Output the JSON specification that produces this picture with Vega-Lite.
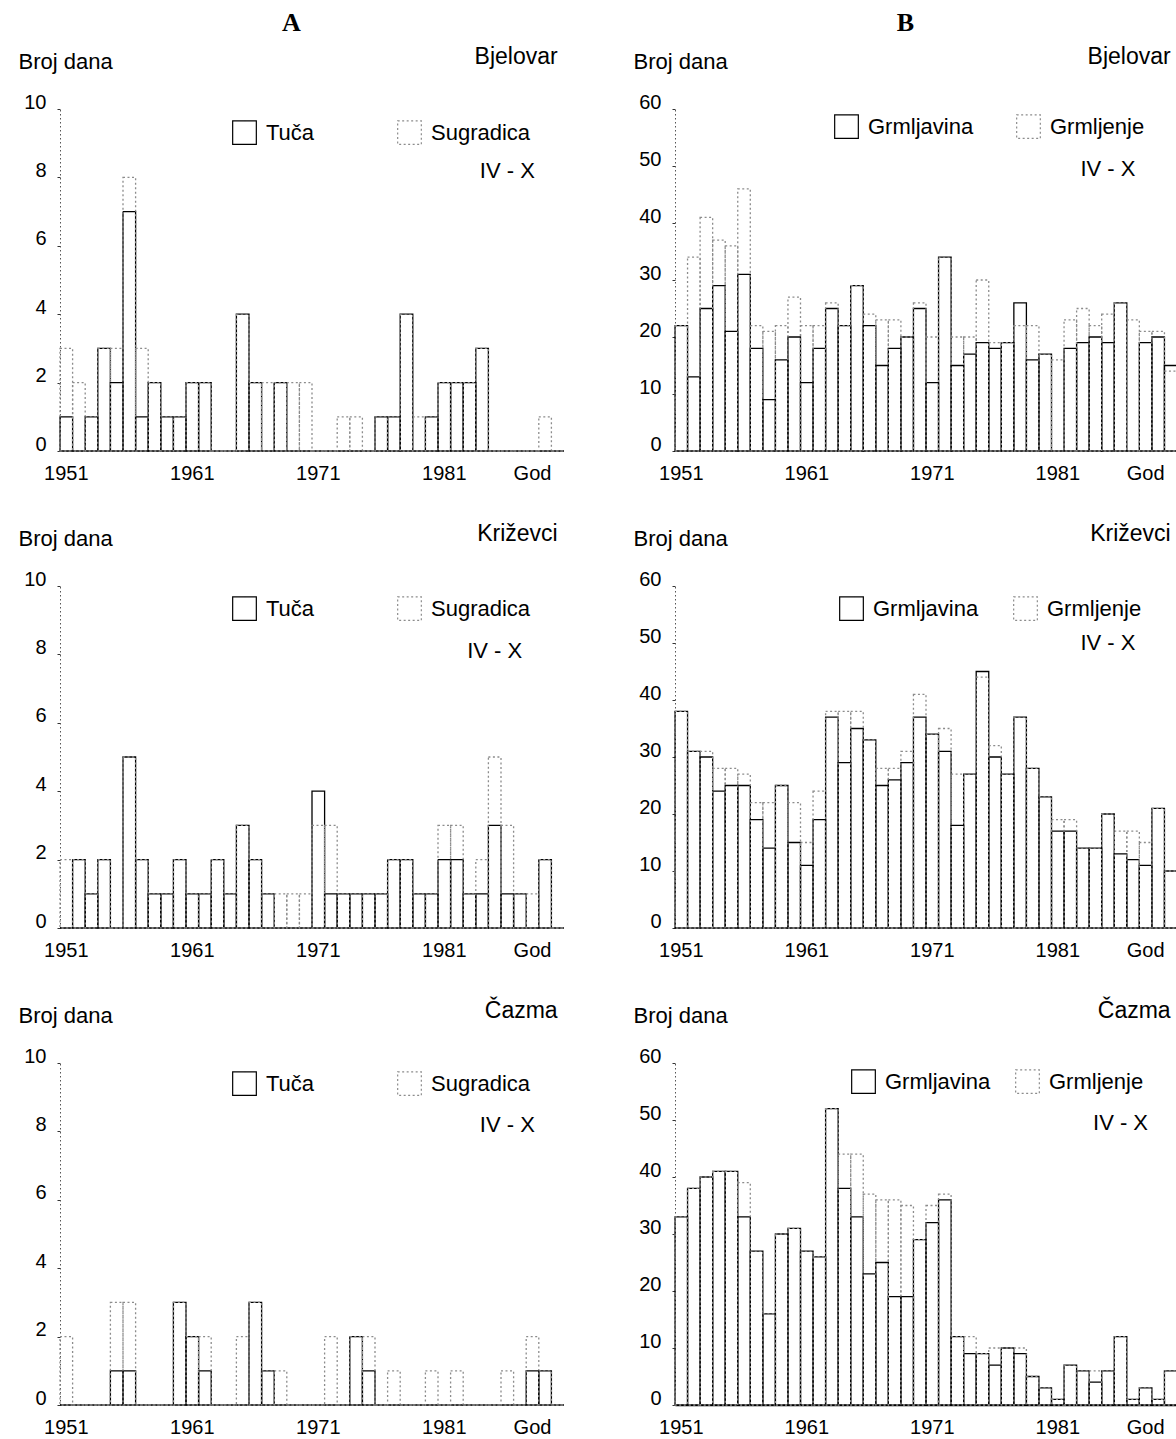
{
  "$schema": "https://vega.github.io/schema/vega-lite/v6.json",
  "autosize": {"type": "pad"},
  "padding": {"left": 18, "top": 10, "right": 0, "bottom": 0},
  "background": "white",
  "datasets": {
    "bjelovarA": [
      {"god":1951,"Tuča":1,"Sugradica":3},{"god":1952,"Tuča":0,"Sugradica":2},{"god":1953,"Tuča":1,"Sugradica":1},{"god":1954,"Tuča":3,"Sugradica":3},{"god":1955,"Tuča":2,"Sugradica":3},
      {"god":1956,"Tuča":7,"Sugradica":8},{"god":1957,"Tuča":1,"Sugradica":3},{"god":1958,"Tuča":2,"Sugradica":2},{"god":1959,"Tuča":1,"Sugradica":1},{"god":1960,"Tuča":1,"Sugradica":1},
      {"god":1961,"Tuča":2,"Sugradica":2},{"god":1962,"Tuča":2,"Sugradica":2},{"god":1963,"Tuča":0,"Sugradica":0},{"god":1964,"Tuča":0,"Sugradica":0},{"god":1965,"Tuča":4,"Sugradica":4},
      {"god":1966,"Tuča":2,"Sugradica":2},{"god":1967,"Tuča":0,"Sugradica":2},{"god":1968,"Tuča":2,"Sugradica":2},{"god":1969,"Tuča":0,"Sugradica":2},{"god":1970,"Tuča":0,"Sugradica":2},
      {"god":1971,"Tuča":0,"Sugradica":0},{"god":1972,"Tuča":0,"Sugradica":0},{"god":1973,"Tuča":0,"Sugradica":1},{"god":1974,"Tuča":0,"Sugradica":1},{"god":1975,"Tuča":0,"Sugradica":0},
      {"god":1976,"Tuča":1,"Sugradica":1},{"god":1977,"Tuča":1,"Sugradica":1},{"god":1978,"Tuča":4,"Sugradica":4},{"god":1979,"Tuča":0,"Sugradica":1},{"god":1980,"Tuča":1,"Sugradica":1},
      {"god":1981,"Tuča":2,"Sugradica":2},{"god":1982,"Tuča":2,"Sugradica":2},{"god":1983,"Tuča":2,"Sugradica":2},{"god":1984,"Tuča":3,"Sugradica":3},{"god":1985,"Tuča":0,"Sugradica":0},
      {"god":1986,"Tuča":0,"Sugradica":0},{"god":1987,"Tuča":0,"Sugradica":0},{"god":1988,"Tuča":0,"Sugradica":0},{"god":1989,"Tuča":0,"Sugradica":1},{"god":1990,"Tuča":0,"Sugradica":0}
    ],
    "krizevciA": [
      {"god":1951,"Tuča":0,"Sugradica":2},{"god":1952,"Tuča":2,"Sugradica":2},{"god":1953,"Tuča":1,"Sugradica":1},{"god":1954,"Tuča":2,"Sugradica":2},{"god":1955,"Tuča":0,"Sugradica":0},
      {"god":1956,"Tuča":5,"Sugradica":5},{"god":1957,"Tuča":2,"Sugradica":2},{"god":1958,"Tuča":1,"Sugradica":1},{"god":1959,"Tuča":1,"Sugradica":1},{"god":1960,"Tuča":2,"Sugradica":2},
      {"god":1961,"Tuča":1,"Sugradica":1},{"god":1962,"Tuča":1,"Sugradica":1},{"god":1963,"Tuča":2,"Sugradica":2},{"god":1964,"Tuča":1,"Sugradica":1},{"god":1965,"Tuča":3,"Sugradica":3},
      {"god":1966,"Tuča":2,"Sugradica":2},{"god":1967,"Tuča":1,"Sugradica":1},{"god":1968,"Tuča":0,"Sugradica":1},{"god":1969,"Tuča":0,"Sugradica":1},{"god":1970,"Tuča":0,"Sugradica":1},
      {"god":1971,"Tuča":4,"Sugradica":3},{"god":1972,"Tuča":1,"Sugradica":3},{"god":1973,"Tuča":1,"Sugradica":1},{"god":1974,"Tuča":1,"Sugradica":1},{"god":1975,"Tuča":1,"Sugradica":1},
      {"god":1976,"Tuča":1,"Sugradica":1},{"god":1977,"Tuča":2,"Sugradica":2},{"god":1978,"Tuča":2,"Sugradica":2},{"god":1979,"Tuča":1,"Sugradica":1},{"god":1980,"Tuča":1,"Sugradica":1},
      {"god":1981,"Tuča":2,"Sugradica":3},{"god":1982,"Tuča":2,"Sugradica":3},{"god":1983,"Tuča":1,"Sugradica":1},{"god":1984,"Tuča":1,"Sugradica":2},{"god":1985,"Tuča":3,"Sugradica":5},
      {"god":1986,"Tuča":1,"Sugradica":3},{"god":1987,"Tuča":1,"Sugradica":1},{"god":1988,"Tuča":0,"Sugradica":1},{"god":1989,"Tuča":2,"Sugradica":2},{"god":1990,"Tuča":0,"Sugradica":0}
    ],
    "cazmaA": [
      {"god":1951,"Tuča":0,"Sugradica":2},{"god":1952,"Tuča":0,"Sugradica":0},{"god":1953,"Tuča":0,"Sugradica":0},{"god":1954,"Tuča":0,"Sugradica":0},{"god":1955,"Tuča":1,"Sugradica":3},
      {"god":1956,"Tuča":1,"Sugradica":3},{"god":1957,"Tuča":0,"Sugradica":0},{"god":1958,"Tuča":0,"Sugradica":0},{"god":1959,"Tuča":0,"Sugradica":0},{"god":1960,"Tuča":3,"Sugradica":3},
      {"god":1961,"Tuča":2,"Sugradica":2},{"god":1962,"Tuča":1,"Sugradica":2},{"god":1963,"Tuča":0,"Sugradica":0},{"god":1964,"Tuča":0,"Sugradica":0},{"god":1965,"Tuča":0,"Sugradica":2},
      {"god":1966,"Tuča":3,"Sugradica":3},{"god":1967,"Tuča":1,"Sugradica":1},{"god":1968,"Tuča":0,"Sugradica":1},{"god":1969,"Tuča":0,"Sugradica":0},{"god":1970,"Tuča":0,"Sugradica":0},
      {"god":1971,"Tuča":0,"Sugradica":0},{"god":1972,"Tuča":0,"Sugradica":2},{"god":1973,"Tuča":0,"Sugradica":0},{"god":1974,"Tuča":2,"Sugradica":2},{"god":1975,"Tuča":1,"Sugradica":2},
      {"god":1976,"Tuča":0,"Sugradica":0},{"god":1977,"Tuča":0,"Sugradica":1},{"god":1978,"Tuča":0,"Sugradica":0},{"god":1979,"Tuča":0,"Sugradica":0},{"god":1980,"Tuča":0,"Sugradica":1},
      {"god":1981,"Tuča":0,"Sugradica":0},{"god":1982,"Tuča":0,"Sugradica":1},{"god":1983,"Tuča":0,"Sugradica":0},{"god":1984,"Tuča":0,"Sugradica":0},{"god":1985,"Tuča":0,"Sugradica":0},
      {"god":1986,"Tuča":0,"Sugradica":1},{"god":1987,"Tuča":0,"Sugradica":0},{"god":1988,"Tuča":1,"Sugradica":2},{"god":1989,"Tuča":1,"Sugradica":1},{"god":1990,"Tuča":0,"Sugradica":0}
    ],
    "bjelovarB": [
      {"god":1951,"Grmljavina":22,"Grmljenje":22},{"god":1952,"Grmljavina":13,"Grmljenje":34},{"god":1953,"Grmljavina":25,"Grmljenje":41},{"god":1954,"Grmljavina":29,"Grmljenje":37},{"god":1955,"Grmljavina":21,"Grmljenje":36},
      {"god":1956,"Grmljavina":31,"Grmljenje":46},{"god":1957,"Grmljavina":18,"Grmljenje":22},{"god":1958,"Grmljavina":9,"Grmljenje":21},{"god":1959,"Grmljavina":16,"Grmljenje":22},{"god":1960,"Grmljavina":20,"Grmljenje":27},
      {"god":1961,"Grmljavina":12,"Grmljenje":22},{"god":1962,"Grmljavina":18,"Grmljenje":22},{"god":1963,"Grmljavina":25,"Grmljenje":26},{"god":1964,"Grmljavina":22,"Grmljenje":22},{"god":1965,"Grmljavina":29,"Grmljenje":29},
      {"god":1966,"Grmljavina":22,"Grmljenje":24},{"god":1967,"Grmljavina":15,"Grmljenje":23},{"god":1968,"Grmljavina":18,"Grmljenje":23},{"god":1969,"Grmljavina":20,"Grmljenje":20},{"god":1970,"Grmljavina":25,"Grmljenje":26},
      {"god":1971,"Grmljavina":12,"Grmljenje":20},{"god":1972,"Grmljavina":34,"Grmljenje":34},{"god":1973,"Grmljavina":15,"Grmljenje":20},{"god":1974,"Grmljavina":17,"Grmljenje":20},{"god":1975,"Grmljavina":19,"Grmljenje":30},
      {"god":1976,"Grmljavina":18,"Grmljenje":19},{"god":1977,"Grmljavina":19,"Grmljenje":19},{"god":1978,"Grmljavina":26,"Grmljenje":22},{"god":1979,"Grmljavina":16,"Grmljenje":22},{"god":1980,"Grmljavina":17,"Grmljenje":17},
      {"god":1981,"Grmljavina":0,"Grmljenje":16},{"god":1982,"Grmljavina":18,"Grmljenje":23},{"god":1983,"Grmljavina":19,"Grmljenje":25},{"god":1984,"Grmljavina":20,"Grmljenje":22},{"god":1985,"Grmljavina":19,"Grmljenje":24},
      {"god":1986,"Grmljavina":26,"Grmljenje":26},{"god":1987,"Grmljavina":0,"Grmljenje":23},{"god":1988,"Grmljavina":19,"Grmljenje":21},{"god":1989,"Grmljavina":20,"Grmljenje":21},{"god":1990,"Grmljavina":15,"Grmljenje":14}
    ],
    "krizevciB": [
      {"god":1951,"Grmljavina":38,"Grmljenje":38},{"god":1952,"Grmljavina":31,"Grmljenje":31},{"god":1953,"Grmljavina":30,"Grmljenje":31},{"god":1954,"Grmljavina":24,"Grmljenje":28},{"god":1955,"Grmljavina":25,"Grmljenje":28},
      {"god":1956,"Grmljavina":25,"Grmljenje":27},{"god":1957,"Grmljavina":19,"Grmljenje":22},{"god":1958,"Grmljavina":14,"Grmljenje":22},{"god":1959,"Grmljavina":25,"Grmljenje":25},{"god":1960,"Grmljavina":15,"Grmljenje":22},
      {"god":1961,"Grmljavina":11,"Grmljenje":15},{"god":1962,"Grmljavina":19,"Grmljenje":24},{"god":1963,"Grmljavina":37,"Grmljenje":38},{"god":1964,"Grmljavina":29,"Grmljenje":38},{"god":1965,"Grmljavina":35,"Grmljenje":38},
      {"god":1966,"Grmljavina":33,"Grmljenje":33},{"god":1967,"Grmljavina":25,"Grmljenje":28},{"god":1968,"Grmljavina":26,"Grmljenje":28},{"god":1969,"Grmljavina":29,"Grmljenje":31},{"god":1970,"Grmljavina":37,"Grmljenje":41},
      {"god":1971,"Grmljavina":34,"Grmljenje":34},{"god":1972,"Grmljavina":31,"Grmljenje":35},{"god":1973,"Grmljavina":18,"Grmljenje":27},{"god":1974,"Grmljavina":27,"Grmljenje":27},{"god":1975,"Grmljavina":45,"Grmljenje":44},
      {"god":1976,"Grmljavina":30,"Grmljenje":32},{"god":1977,"Grmljavina":27,"Grmljenje":27},{"god":1978,"Grmljavina":37,"Grmljenje":37},{"god":1979,"Grmljavina":28,"Grmljenje":28},{"god":1980,"Grmljavina":23,"Grmljenje":23},
      {"god":1981,"Grmljavina":17,"Grmljenje":19},{"god":1982,"Grmljavina":17,"Grmljenje":19},{"god":1983,"Grmljavina":14,"Grmljenje":14},{"god":1984,"Grmljavina":14,"Grmljenje":14},{"god":1985,"Grmljavina":20,"Grmljenje":20},
      {"god":1986,"Grmljavina":13,"Grmljenje":17},{"god":1987,"Grmljavina":12,"Grmljenje":17},{"god":1988,"Grmljavina":11,"Grmljenje":15},{"god":1989,"Grmljavina":21,"Grmljenje":21},{"god":1990,"Grmljavina":10,"Grmljenje":10}
    ],
    "cazmaB": [
      {"god":1951,"Grmljavina":33,"Grmljenje":33},{"god":1952,"Grmljavina":38,"Grmljenje":38},{"god":1953,"Grmljavina":40,"Grmljenje":40},{"god":1954,"Grmljavina":41,"Grmljenje":41},{"god":1955,"Grmljavina":41,"Grmljenje":41},
      {"god":1956,"Grmljavina":33,"Grmljenje":39},{"god":1957,"Grmljavina":27,"Grmljenje":27},{"god":1958,"Grmljavina":16,"Grmljenje":16},{"god":1959,"Grmljavina":30,"Grmljenje":30},{"god":1960,"Grmljavina":31,"Grmljenje":31},
      {"god":1961,"Grmljavina":27,"Grmljenje":27},{"god":1962,"Grmljavina":26,"Grmljenje":26},{"god":1963,"Grmljavina":52,"Grmljenje":52},{"god":1964,"Grmljavina":38,"Grmljenje":44},{"god":1965,"Grmljavina":33,"Grmljenje":44},
      {"god":1966,"Grmljavina":23,"Grmljenje":37},{"god":1967,"Grmljavina":25,"Grmljenje":36},{"god":1968,"Grmljavina":19,"Grmljenje":36},{"god":1969,"Grmljavina":19,"Grmljenje":35},{"god":1970,"Grmljavina":29,"Grmljenje":29},
      {"god":1971,"Grmljavina":32,"Grmljenje":35},{"god":1972,"Grmljavina":36,"Grmljenje":37},{"god":1973,"Grmljavina":12,"Grmljenje":12},{"god":1974,"Grmljavina":9,"Grmljenje":12},{"god":1975,"Grmljavina":9,"Grmljenje":9},
      {"god":1976,"Grmljavina":7,"Grmljenje":10},{"god":1977,"Grmljavina":10,"Grmljenje":10},{"god":1978,"Grmljavina":9,"Grmljenje":10},{"god":1979,"Grmljavina":5,"Grmljenje":5},{"god":1980,"Grmljavina":3,"Grmljenje":3},
      {"god":1981,"Grmljavina":1,"Grmljenje":1},{"god":1982,"Grmljavina":7,"Grmljenje":7},{"god":1983,"Grmljavina":6,"Grmljenje":6},{"god":1984,"Grmljavina":4,"Grmljenje":6},{"god":1985,"Grmljavina":6,"Grmljenje":6},
      {"god":1986,"Grmljavina":12,"Grmljenje":12},{"god":1987,"Grmljavina":1,"Grmljenje":1},{"god":1988,"Grmljavina":3,"Grmljenje":3},{"god":1989,"Grmljavina":1,"Grmljenje":1},{"god":1990,"Grmljavina":6,"Grmljenje":6}
    ]
  },
  "hconcat": [
    {
      "title": {"text": "A", "anchor": "middle", "font": "Liberation Serif", "fontWeight": "bold", "fontSize": 26, "offset": 10},
      "spacing": 135,
      "bounds": "flush",
      "resolve": {"scale": {"x": "independent", "y": "independent", "stroke": "independent", "strokeDash": "independent"}, "legend": {"stroke": "independent", "strokeDash": "independent"}},
      "vconcat": [
        {
          "width": 504, "height": 342,
          "title": {"text": "Bjelovar", "anchor": "end", "dx": -7},
          "data": {"name": "bjelovarA"},
          "layer": [
            {
              "transform": [{"fold": ["Tuča", "Sugradica"], "as": ["serija", "dana"]}],
              "mark": {"type": "bar", "filled": false, "strokeWidth": 1.3},
              "encoding": {
                "x": {"field": "god", "type": "ordinal", "scale": {"paddingInner": 0, "paddingOuter": 0}, "axis": {"values": [1951, 1961, 1971, 1981, 1988], "labelExpr": "datum.value == 1988 ? 'God' : datum.label"}},
                "y": {"field": "dana", "type": "quantitative", "stack": null, "scale": {"domain": [0, 10], "nice": false}, "axis": {"values": [0, 2, 4, 6, 8, 10], "title": "Broj dana"}},
                "stroke": {"field": "serija", "type": "nominal", "scale": {"domain": ["Tuča", "Sugradica"], "range": ["#000000", "#8c8c8c"]}, "legend": {"orient": "none", "legendX": 172, "legendY": 11, "direction": "horizontal", "columnPadding": 80, "title": null}},
                "strokeDash": {"field": "serija", "type": "nominal", "scale": {"domain": ["Tuča", "Sugradica"], "range": [[1, 0], [2, 2.5]]}, "legend": {"orient": "none", "legendX": 172, "legendY": 11, "direction": "horizontal", "columnPadding": 80, "title": null}}
              }
            },
            {
              "data": {"values": [{}]},
              "mark": {"type": "text", "fontSize": 22, "font": "Liberation Sans"},
              "encoding": {"x": {"datum": 1986, "type": "ordinal"}, "y": {"datum": 8.2, "type": "quantitative"}, "text": {"value": "IV - X"}}
            }
          ]
        },
        {
          "width": 504, "height": 342,
          "title": {"text": "Križevci", "anchor": "end", "dx": -7},
          "data": {"name": "krizevciA"},
          "layer": [
            {
              "transform": [{"fold": ["Tuča", "Sugradica"], "as": ["serija", "dana"]}],
              "mark": {"type": "bar", "filled": false, "strokeWidth": 1.3},
              "encoding": {
                "x": {"field": "god", "type": "ordinal", "scale": {"paddingInner": 0, "paddingOuter": 0}, "axis": {"values": [1951, 1961, 1971, 1981, 1988], "labelExpr": "datum.value == 1988 ? 'God' : datum.label"}},
                "y": {"field": "dana", "type": "quantitative", "stack": null, "scale": {"domain": [0, 10], "nice": false}, "axis": {"values": [0, 2, 4, 6, 8, 10], "title": "Broj dana"}},
                "stroke": {"field": "serija", "type": "nominal", "scale": {"domain": ["Tuča", "Sugradica"], "range": ["#000000", "#8c8c8c"]}, "legend": {"orient": "none", "legendX": 172, "legendY": 10, "direction": "horizontal", "columnPadding": 80, "title": null}},
                "strokeDash": {"field": "serija", "type": "nominal", "scale": {"domain": ["Tuča", "Sugradica"], "range": [[1, 0], [2, 2.5]]}, "legend": {"orient": "none", "legendX": 172, "legendY": 10, "direction": "horizontal", "columnPadding": 80, "title": null}}
              }
            },
            {
              "data": {"values": [{}]},
              "mark": {"type": "text", "fontSize": 22, "font": "Liberation Sans"},
              "encoding": {"x": {"datum": 1985, "type": "ordinal"}, "y": {"datum": 8.1, "type": "quantitative"}, "text": {"value": "IV - X"}}
            }
          ]
        },
        {
          "width": 504, "height": 342,
          "title": {"text": "Čazma", "anchor": "end", "dx": -7},
          "data": {"name": "cazmaA"},
          "layer": [
            {
              "transform": [{"fold": ["Tuča", "Sugradica"], "as": ["serija", "dana"]}],
              "mark": {"type": "bar", "filled": false, "strokeWidth": 1.3},
              "encoding": {
                "x": {"field": "god", "type": "ordinal", "scale": {"paddingInner": 0, "paddingOuter": 0}, "axis": {"values": [1951, 1961, 1971, 1981, 1988], "labelExpr": "datum.value == 1988 ? 'God' : datum.label"}},
                "y": {"field": "dana", "type": "quantitative", "stack": null, "scale": {"domain": [0, 10], "nice": false}, "axis": {"values": [0, 2, 4, 6, 8, 10], "title": "Broj dana"}},
                "stroke": {"field": "serija", "type": "nominal", "scale": {"domain": ["Tuča", "Sugradica"], "range": ["#000000", "#8c8c8c"]}, "legend": {"orient": "none", "legendX": 172, "legendY": 8, "direction": "horizontal", "columnPadding": 80, "title": null}},
                "strokeDash": {"field": "serija", "type": "nominal", "scale": {"domain": ["Tuča", "Sugradica"], "range": [[1, 0], [2, 2.5]]}, "legend": {"orient": "none", "legendX": 172, "legendY": 8, "direction": "horizontal", "columnPadding": 80, "title": null}}
              }
            },
            {
              "data": {"values": [{}]},
              "mark": {"type": "text", "fontSize": 22, "font": "Liberation Sans"},
              "encoding": {"x": {"datum": 1986, "type": "ordinal"}, "y": {"datum": 8.2, "type": "quantitative"}, "text": {"value": "IV - X"}}
            }
          ]
        }
      ]
    },
    {
      "title": {"text": "B", "anchor": "middle", "font": "Liberation Serif", "fontWeight": "bold", "fontSize": 26, "offset": 10},
      "spacing": 135,
      "bounds": "flush",
      "resolve": {"scale": {"x": "independent", "y": "independent", "stroke": "independent", "strokeDash": "independent"}, "legend": {"stroke": "independent", "strokeDash": "independent"}},
      "vconcat": [
        {
          "width": 502, "height": 342,
          "title": {"text": "Bjelovar", "anchor": "end", "dx": -7},
          "data": {"name": "bjelovarB"},
          "layer": [
            {
              "transform": [{"fold": ["Grmljavina", "Grmljenje"], "as": ["serija", "dana"]}],
              "mark": {"type": "bar", "filled": false, "strokeWidth": 1.3},
              "encoding": {
                "x": {"field": "god", "type": "ordinal", "scale": {"paddingInner": 0, "paddingOuter": 0}, "axis": {"values": [1951, 1961, 1971, 1981, 1988], "labelExpr": "datum.value == 1988 ? 'God' : datum.label"}},
                "y": {"field": "dana", "type": "quantitative", "stack": null, "scale": {"domain": [0, 60], "nice": false}, "axis": {"values": [0, 10, 20, 30, 40, 50, 60], "title": "Broj dana"}},
                "stroke": {"field": "serija", "type": "nominal", "scale": {"domain": ["Grmljavina", "Grmljenje"], "range": ["#000000", "#8c8c8c"]}, "legend": {"orient": "none", "legendX": 159, "legendY": 5, "direction": "horizontal", "columnPadding": 40, "title": null}},
                "strokeDash": {"field": "serija", "type": "nominal", "scale": {"domain": ["Grmljavina", "Grmljenje"], "range": [[1, 0], [2, 2.5]]}, "legend": {"orient": "none", "legendX": 159, "legendY": 5, "direction": "horizontal", "columnPadding": 40, "title": null}}
              }
            },
            {
              "data": {"values": [{}]},
              "mark": {"type": "text", "fontSize": 22, "font": "Liberation Sans"},
              "encoding": {"x": {"datum": 1985, "type": "ordinal"}, "y": {"datum": 49.5, "type": "quantitative"}, "text": {"value": "IV - X"}}
            }
          ]
        },
        {
          "width": 502, "height": 342,
          "title": {"text": "Križevci", "anchor": "end", "dx": -7},
          "data": {"name": "krizevciB"},
          "layer": [
            {
              "transform": [{"fold": ["Grmljavina", "Grmljenje"], "as": ["serija", "dana"]}],
              "mark": {"type": "bar", "filled": false, "strokeWidth": 1.3},
              "encoding": {
                "x": {"field": "god", "type": "ordinal", "scale": {"paddingInner": 0, "paddingOuter": 0}, "axis": {"values": [1951, 1961, 1971, 1981, 1988], "labelExpr": "datum.value == 1988 ? 'God' : datum.label"}},
                "y": {"field": "dana", "type": "quantitative", "stack": null, "scale": {"domain": [0, 60], "nice": false}, "axis": {"values": [0, 10, 20, 30, 40, 50, 60], "title": "Broj dana"}},
                "stroke": {"field": "serija", "type": "nominal", "scale": {"domain": ["Grmljavina", "Grmljenje"], "range": ["#000000", "#8c8c8c"]}, "legend": {"orient": "none", "legendX": 164, "legendY": 10, "direction": "horizontal", "columnPadding": 32, "title": null}},
                "strokeDash": {"field": "serija", "type": "nominal", "scale": {"domain": ["Grmljavina", "Grmljenje"], "range": [[1, 0], [2, 2.5]]}, "legend": {"orient": "none", "legendX": 164, "legendY": 10, "direction": "horizontal", "columnPadding": 32, "title": null}}
              }
            },
            {
              "data": {"values": [{}]},
              "mark": {"type": "text", "fontSize": 22, "font": "Liberation Sans"},
              "encoding": {"x": {"datum": 1985, "type": "ordinal"}, "y": {"datum": 50, "type": "quantitative"}, "text": {"value": "IV - X"}}
            }
          ]
        },
        {
          "width": 502, "height": 342,
          "title": {"text": "Čazma", "anchor": "end", "dx": -7},
          "data": {"name": "cazmaB"},
          "layer": [
            {
              "transform": [{"fold": ["Grmljavina", "Grmljenje"], "as": ["serija", "dana"]}],
              "mark": {"type": "bar", "filled": false, "strokeWidth": 1.3},
              "encoding": {
                "x": {"field": "god", "type": "ordinal", "scale": {"paddingInner": 0, "paddingOuter": 0}, "axis": {"values": [1951, 1961, 1971, 1981, 1988], "labelExpr": "datum.value == 1988 ? 'God' : datum.label", "domainDash": [], "domainColor": "#000000", "domainWidth": 1.5}},
                "y": {"field": "dana", "type": "quantitative", "stack": null, "scale": {"domain": [0, 60], "nice": false}, "axis": {"values": [0, 10, 20, 30, 40, 50, 60], "title": "Broj dana"}},
                "stroke": {"field": "serija", "type": "nominal", "scale": {"domain": ["Grmljavina", "Grmljenje"], "range": ["#000000", "#8c8c8c"]}, "legend": {"orient": "none", "legendX": 176, "legendY": 6, "direction": "horizontal", "columnPadding": 22, "title": null}},
                "strokeDash": {"field": "serija", "type": "nominal", "scale": {"domain": ["Grmljavina", "Grmljenje"], "range": [[1, 0], [2, 2.5]]}, "legend": {"orient": "none", "legendX": 176, "legendY": 6, "direction": "horizontal", "columnPadding": 22, "title": null}}
              }
            },
            {
              "data": {"values": [{}]},
              "mark": {"type": "text", "fontSize": 22, "font": "Liberation Sans"},
              "encoding": {"x": {"datum": 1986, "type": "ordinal"}, "y": {"datum": 49.5, "type": "quantitative"}, "text": {"value": "IV - X"}}
            }
          ]
        }
      ]
    }
  ],
  "spacing": 68,
  "resolve": {"scale": {"x": "independent", "y": "independent", "stroke": "independent", "strokeDash": "independent"}, "legend": {"stroke": "independent", "strokeDash": "independent"}},
  "config": {
    "font": "Liberation Sans",
    "view": {"stroke": null},
    "axis": {"labelFont": "Liberation Sans", "labelFontSize": 20, "labelColor": "#000000", "titleFont": "Liberation Sans", "titleFontSize": 22, "titleFontWeight": "normal", "titleColor": "#000000", "grid": false},
    "axisX": {"domain": true, "domainColor": "#888888", "domainDash": [1, 2], "ticks": false, "labelAngle": 0, "labelPadding": 12, "title": null, "labelOverlap": false},
    "axisY": {"domainColor": "#555555", "domainDash": [1.5, 2.5], "ticks": true, "tickSize": 3, "tickColor": "#333333", "labelPadding": 11, "labelOffset": -7, "titleAngle": 0, "titleAlign": "left", "titleBaseline": "middle", "titleX": -42, "titleY": -48},
    "title": {"font": "Liberation Sans", "fontSize": 23, "fontWeight": "normal", "color": "#000000", "offset": -19},
    "legend": {"symbolType": "square", "symbolSize": 560, "symbolStrokeWidth": 1.2, "labelFont": "Liberation Sans", "labelFontSize": 22, "labelColor": "#000000", "labelOffset": 9, "symbolFillColor": "transparent"}
  }
}
